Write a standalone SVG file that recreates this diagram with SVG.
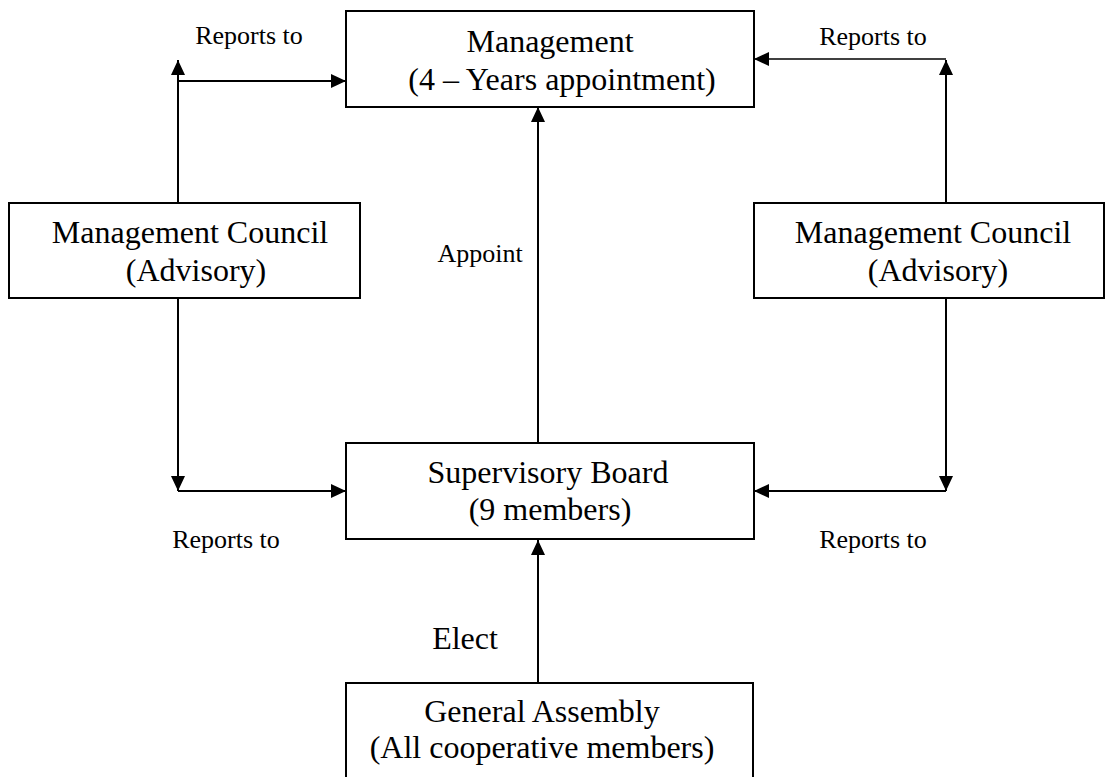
<svg xmlns="http://www.w3.org/2000/svg" width="1107" height="777" viewBox="0 0 1107 777">
  <style>
    .box { fill: #ffffff; stroke: #000000; stroke-width: 2; }
    .lbl { font-family: "Liberation Serif", "Times New Roman", serif; fill: #000000; text-anchor: middle; }
    .big { font-size: 32px; }
    .small { font-size: 26px; }
    .edge { stroke: #000000; stroke-width: 2; fill: none; }
    .thin { stroke-width: 1.4; }
  </style>
  <defs>
    <marker id="arrow" viewBox="0 0 15 14" refX="15" refY="7" markerWidth="15" markerHeight="14" markerUnits="userSpaceOnUse" orient="auto">
      <path d="M0,0 L15,7 L0,14 Z" fill="#000000"/>
    </marker>
  </defs>

  <rect width="1107" height="777" fill="#ffffff"/>

  <!-- connectors -->
  <g id="connectors">
    <!-- left council: up to the management box -->
    <line class="edge" x1="178" y1="203" x2="178" y2="60" marker-end="url(#arrow)"/>
    <line class="edge" x1="178" y1="81" x2="346" y2="81" marker-end="url(#arrow)"/>
    <!-- right council: up to the management box -->
    <line class="edge" x1="946" y1="203" x2="946" y2="60" marker-end="url(#arrow)"/>
    <line class="edge thin" x1="946" y1="59" x2="754" y2="59" marker-end="url(#arrow)"/>
    <!-- left council: down to the supervisory board -->
    <line class="edge" x1="178" y1="298" x2="178" y2="491" marker-end="url(#arrow)"/>
    <line class="edge" x1="178" y1="491" x2="346" y2="491" marker-end="url(#arrow)"/>
    <!-- right council: down to the supervisory board -->
    <line class="edge" x1="946" y1="298" x2="946" y2="491" marker-end="url(#arrow)"/>
    <line class="edge" x1="946" y1="491" x2="754" y2="491" marker-end="url(#arrow)"/>
    <!-- board appoints management -->
    <line class="edge" x1="538" y1="443" x2="538" y2="107" marker-end="url(#arrow)"/>
    <!-- assembly elects the board -->
    <line class="edge" x1="538" y1="683" x2="538" y2="540" marker-end="url(#arrow)"/>

    <text class="lbl small" x="249" y="44">Reports to</text>
    <text class="lbl small" x="873" y="45">Reports to</text>
    <text class="lbl small" x="226" y="548">Reports to</text>
    <text class="lbl small" x="873" y="548">Reports to</text>
    <text class="lbl small" x="480" y="262">Appoint</text>
    <text class="lbl big" x="465" y="649">Elect</text>
  </g>

  <g id="management">
    <rect class="box" x="346" y="11" width="408" height="96"/>
    <text class="lbl big" x="550" y="52">Management</text>
    <text class="lbl big" x="562" y="90">(4 – Years appointment)</text>
  </g>

  <g id="council-left">
    <rect class="box" x="9" y="203" width="351" height="95"/>
    <text class="lbl big" x="190" y="243">Management Council</text>
    <text class="lbl big" x="196" y="281">(Advisory)</text>
  </g>

  <g id="council-right">
    <rect class="box" x="754" y="203" width="350" height="95"/>
    <text class="lbl big" x="933" y="243">Management Council</text>
    <text class="lbl big" x="938" y="281">(Advisory)</text>
  </g>

  <g id="supervisory-board">
    <rect class="box" x="346" y="443" width="408" height="96"/>
    <text class="lbl big" x="548" y="483">Supervisory Board</text>
    <text class="lbl big" x="550" y="520">(9 members)</text>
  </g>

  <g id="general-assembly">
    <rect class="box" x="346" y="683" width="407" height="110"/>
    <text class="lbl big" x="542" y="722">General Assembly</text>
    <text class="lbl big" x="542" y="758">(All cooperative members)</text>
  </g>
</svg>
